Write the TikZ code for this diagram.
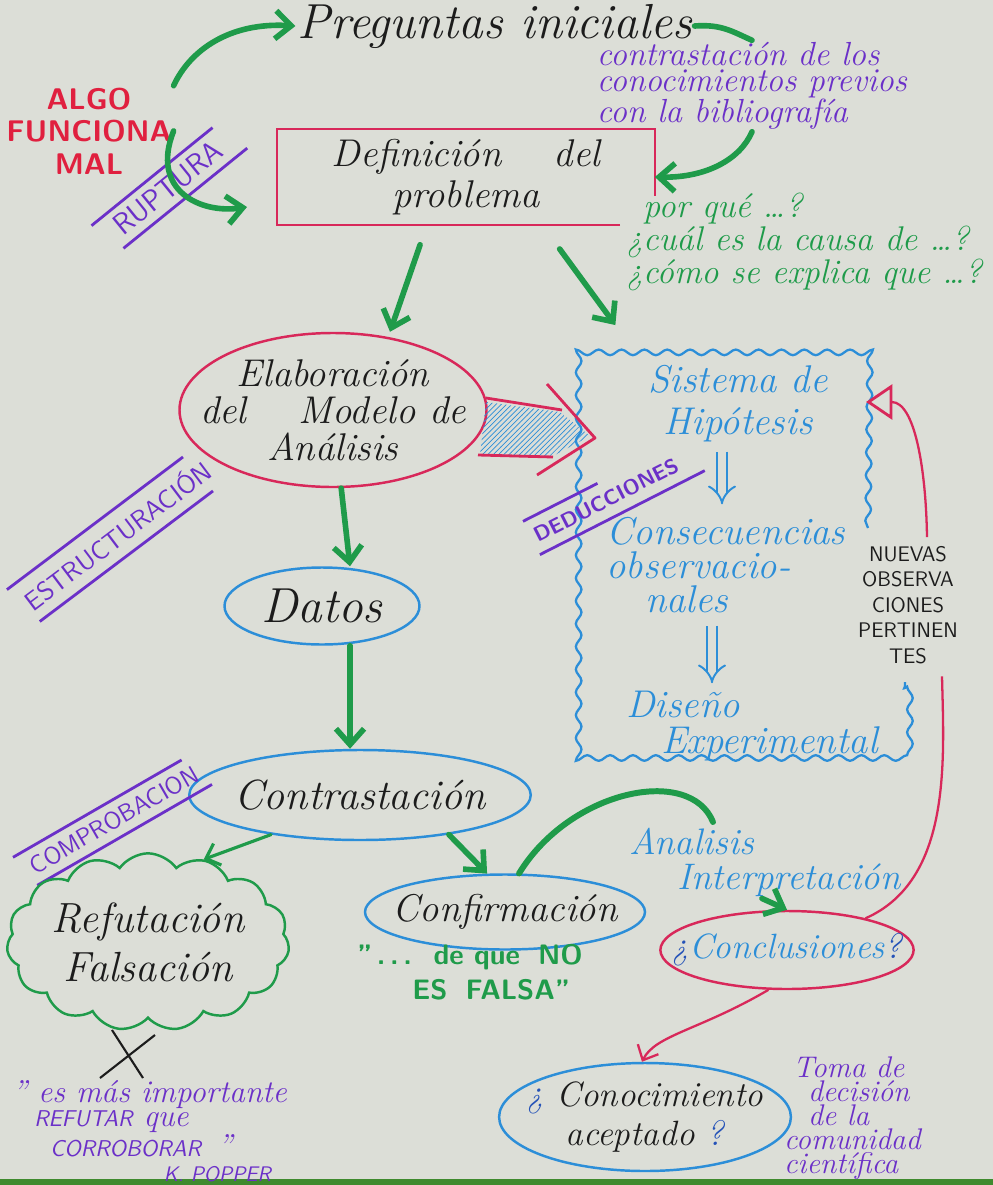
\documentclass[tikz,border=0pt]{standalone}
\usepackage{fontspec}
\usetikzlibrary{positioning, shapes.geometric, shapes.symbols, arrows.meta, decorations.pathmorphing, patterns}
\definecolor{paper}{HTML}{DCDED7}
\definecolor{edge}{HTML}{3F8A2E}
\definecolor{pgreen}{HTML}{1F9B4A}
\definecolor{pred}{HTML}{D8285A}
\definecolor{palarm}{HTML}{E0203F}
\definecolor{pblue}{HTML}{2C8ED8}
\definecolor{pdeep}{HTML}{2452B8}
\definecolor{ppurple}{HTML}{6B30C8}
\definecolor{pink}{HTML}{1C1C1C}
\newcommand{\pensize}[2]{\fontsize{#1}{#2}\selectfont}

\tikzset{
  ink/.style={align=center, inner sep=1pt, text=pink},
  caps/.style={align=center, inner sep=1pt},
  garrow/.style={draw=pgreen, line width=3.2pt, line cap=round, -{Straight Barb[length=9pt, width=16pt]}},
  gthin/.style={draw=pgreen, line width=1.8pt, line cap=round, -{Straight Barb[length=7pt, width=13pt]}},
  redline/.style={draw=pred, line width=1.3pt},
  bluering/.style={ellipse, draw=pblue, line width=1.4pt, inner ysep=0pt},
  wavy/.style={draw=pblue, line width=1.3pt, decorate, decoration={snake, amplitude=1.6pt, segment length=13pt}},
  stripe/.style={caps, text=ppurple, inner xsep=2pt},
  stripeline/.style={draw=ppurple, line width=1.6pt},
  dblarrow/.style={draw=pblue, double=paper, double distance=4.5pt, line width=1.1pt, -{Implies[length=9pt, width=22pt]}}
}

\begin{document}
\begin{tikzpicture}[x=0.2mm, y=-0.2mm]
\useasboundingbox (0,0) rectangle (993,1185);
\fill[paper] (0,0) rectangle (993,1185);
\fill[edge] (0,1179) rectangle (993,1185);

% arriba
\node[ink, font=\pensize{28}{30}\itshape] (pregs) at (495,26) {Preguntas iniciales};
\node[caps, text=palarm, font=\sffamily\bfseries\pensize{17}{18.5}] (algo) at (89,131) {ALGO\\FUNCIONA\\MAL};
\node[caps, text=ppurple, align=left, font=\itshape\pensize{19}{14.5}] (bib) at (752,86) {contrastación de los\\conocimientos previos\\con la bibliografía};
\node[ink, minimum width=75.4mm, minimum height=19mm, font=\pensize{22}{23}\itshape] (defin) at (466,177) {Definición \quad del\\problema};
\draw[redline] (defin.south -| 620,0) -- (defin.south west) -- (defin.north west) -- (defin.north east) -- (defin.east |- 0,196);
\node[caps, text=pgreen, align=left, font=\itshape\pensize{19.5}{17}] (porque) at (804,242) {\hspace*{0.5em}por qué \dots ?\\¿cuál es la causa de \dots?\\¿cómo se explica que \dots ?};

% ruptura
\node[stripe, inner ysep=4.5pt, rotate=39, font=\sffamily\pensize{17}{18}] (rup) at (168,188) {RUPTURA};
\draw[stripeline, shorten <=-8pt, shorten >=-2pt] (rup.north west) -- (rup.north east);
\draw[stripeline, shorten <=-2pt, shorten >=-10pt] (rup.south west) -- (rup.south east);

\coordinate (rupin) at (247,207);
\draw[garrow] (algo.north east) .. controls (190,50) and (230,22) .. (pregs.west);
\draw[garrow] (algo.east) .. controls (150,190) and (200,214) .. (rupin);
\draw[draw=pgreen, line width=3.2pt, line cap=round] (pregs.east) .. controls (722,24) and (733,32) .. (bib.north);
\draw[garrow] (bib.south) .. controls (740,160) and (705,178) .. (defin.east);

% modelo
\node[ink, ellipse, draw=pred, line width=1.4pt, inner xsep=-5mm, inner ysep=0pt, minimum width=61.4mm, minimum height=30.8mm, font=\pensize{22}{21}\itshape] (elab) at (333,410) {Elaboración\\del \quad Modelo de\\Análisis};
\node[minimum width=66.4mm, minimum height=83mm] (hip) at (740,557) {};
\draw[wavy] (868,528) -- (870,352) -- (575,352) -- (575,765) -- (905,765) -- (905,682);

\draw[garrow, shorten <=12pt] (defin.south -| 427,0) -- (elab.north -| 390,0);
\draw[garrow, shorten <=17pt, shorten >=17pt] (defin.south -| 542,0) -- (hip.north -| 633,0);

% flecha rayada
\fill[pattern=north east lines, pattern color=pblue] (486,402) -- (560,412) -- (590,436) -- (553,456) -- (480,455) -- cycle;
\draw[redline, line width=1.6pt, line join=round] (486,398) -- (562,410) (547,384) -- (595,438) -- (537,475) (553,457) -- (478,455);

% hipotesis
\node[ink, text=pblue, font=\pensize{22}{24}\itshape] (sist) at (738,404) {Sistema de\\Hipótesis};
\node[ink, text=pblue, align=left, font=\pensize{22}{19.5}\itshape] (conse) at (726,565) {Consecuencias\\observacio-\\\hspace*{1em}nales};
\node[ink, text=pblue, align=left, font=\pensize{22}{21}\itshape] (diseno) at (752,726) {Diseño\\\hspace*{0.9em}Experimental};
\draw[dblarrow, shorten <=4pt, shorten >=6pt] (sist.south -| 722,0) -- (conse.north -| 722,0);
\draw[dblarrow, shorten <=6pt, shorten >=3pt] (conse.south -| 712,0) -- (diseno.north -| 712,0);

\node[stripe, inner ysep=6pt, rotate=27, font=\sffamily\bfseries\pensize{12}{14}] (deduc) at (606,500) {DEDUCCIONES};
\draw[stripeline] (deduc.north west) -- (deduc.north);
\draw[stripeline, shorten >=-10pt] (deduc.south west) -- (deduc.south east);

\node[stripe, inner ysep=6pt, rotate=37, font=\sffamily\pensize{15}{16}] (estruc) at (117,535) {ESTRUCTURACIÓN};
\draw[stripeline, shorten <=-2pt, shorten >=10pt] (estruc.north west) -- (estruc.north east);
\draw[stripeline, shorten <=2pt, shorten >=8pt] (estruc.south west) -- (estruc.south east);

% datos
\node[ink, bluering, inner xsep=0pt, minimum width=39mm, minimum height=15.4mm, font=\pensize{28}{30}\itshape] (datos) at (322,606) {Datos};
\node[ink, bluering, inner xsep=-1mm, minimum width=66mm, minimum height=18mm, font=\pensize{24}{26}\itshape] (contr) at (360,795) {Contrastación};
\draw[garrow] (elab.-84) -- (datos.north -| 350,0);
\draw[garrow] (datos.south -| 350,0) -- (contr.north -| 350,0);

\node[stripe, inner ysep=5pt, rotate=30, font=\sffamily\pensize{14}{16}] (compro) at (114,820) {COMPROBACION};
\draw[stripeline, shorten <=-4pt, shorten >=6pt] (compro.north west) -- (compro.north east);
\draw[stripeline, shorten >=-2pt] (compro.south west) -- (compro.south east);

% refutacion / confirmacion
\node[ink, cloud, cloud puffs=15, cloud puff arc=110, aspect=1.8, draw=pgreen, line width=1.4pt, inner sep=0pt, minimum width=53mm, minimum height=29mm, font=\pensize{24}{28}\itshape] (refut) at (148,942) {Refutación\\Falsación};
\node[ink, bluering, inner xsep=-3mm, minimum width=56mm, minimum height=15mm, font=\pensize{22}{24}\itshape] (conf) at (505,912) {Confirmación};
\draw[gthin] (contr.-156) -- (refut.56);
\draw[garrow] (contr.-24) -- (conf.115);
\node[caps, text=pgreen, font=\sffamily\bfseries\pensize{16}{20}] (quote) at (470,972) {''\,.\,.\,.\; de que \;NO\\\hspace*{1.5em}ES \;FALSA''};

% conclusiones
\node[ink, text=pblue, align=left, font=\pensize{21}{20}\itshape] (anal) at (765,862) {Analisis\\\hspace*{1.3em}Interpretación};
\node[ink, ellipse, draw=pred, line width=1.4pt, inner xsep=-5.2mm, inner ysep=0pt, minimum width=49mm, minimum height=15.6mm, text=pblue, font=\pensize{20}{22}\itshape] (concl) at (787,950) {\textcolor{pdeep}{¿}Conclusiones\textcolor{pdeep}{?}};
\coordinate (arcend) at (713,822);
\draw[draw=pgreen, line width=3.4pt, line cap=round] (conf.70) .. controls (570,790) and (690,765) .. (arcend);
\draw[garrow] (anal.south -| 762,0) -- (concl.north);

\node[caps, text=pink, font=\sffamily\pensize{12}{14.5}] (nuevas) at (908,605) {NUEVAS\\OBSERVA\\CIONES\\PERTINEN\\TES};
\coordinate (hipdoor) at (866,402);
\draw[redline] (concl.22) .. controls (952,880) and (944,760) .. ([yshift=-6pt]nuevas.south -| 942,0);
\draw[redline, -{Triangle[open, length=15pt, width=20pt, line width=1.6pt]}] ([yshift=4pt]nuevas.north -| 927,0) .. controls (926,470) and (915,402) .. (hipdoor);

\node[ink, bluering, inner xsep=-3mm, minimum width=56mm, minimum height=21.6mm, font=\pensize{20}{22}\itshape] (conoc) at (645,1117) {\textcolor{pdeep}{¿} Conocimiento\\aceptado \textcolor{pdeep}{?}};
\draw[redline, -{Straight Barb[length=7pt, width=13pt]}] (concl.-115) .. controls (700,1030) and (655,1035) .. (conoc.north -| 642,0);

\node[caps, text=ppurple, align=left, anchor=west, font=\itshape\pensize{17}{13.6}] (toma) at (782,1118) {\hspace*{0.3em}Toma de\\\hspace*{0.8em}decisión\\\hspace*{0.8em}de la\\comunidad\\científica};

% cita
\draw[pink, line width=1.2pt] (112,1030) -- (143,1078) (155,1035) -- (100,1078);
\node[caps, text=ppurple, align=left, anchor=north west, font=\itshape\pensize{18}{14}] (popper) at (10,1078) {'' es más importante\\\hspace*{0.7em}{\sffamily\pensize{13}{14}REFUTAR} que\\\hspace*{1.2em}{\sffamily\pensize{13}{14}CORROBORAR} \,''\\\hspace*{4.8em}{\sffamily\pensize{12}{11}K. POPPER}};
\end{tikzpicture}
\end{document}
